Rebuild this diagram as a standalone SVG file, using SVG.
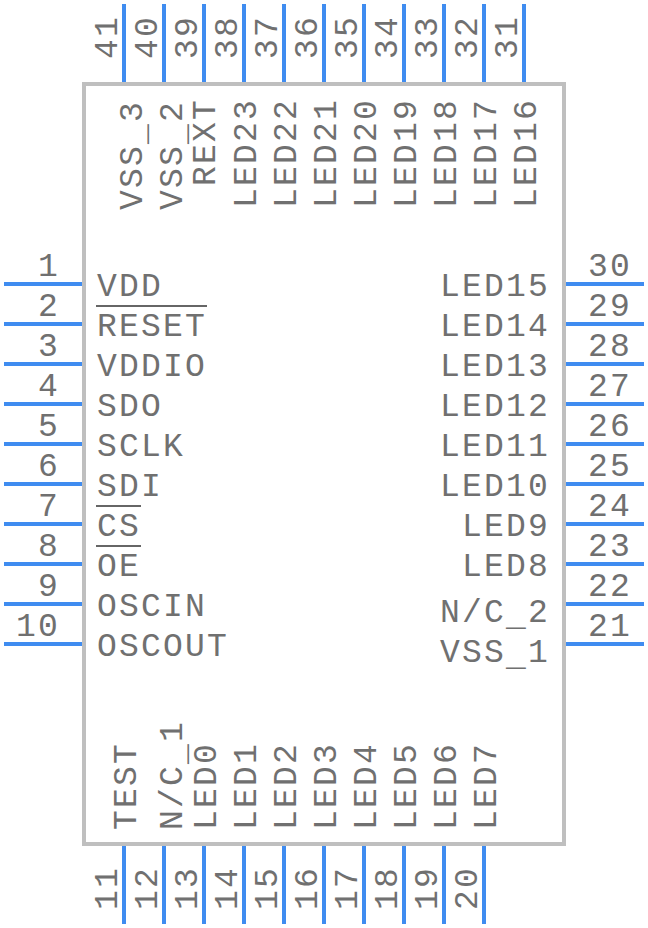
<svg xmlns="http://www.w3.org/2000/svg" width="648" height="928" viewBox="0 0 648 928">
<style>
text{font-family:"Liberation Mono","DejaVu Sans Mono",monospace;font-size:33px;letter-spacing:2.2px;fill:#707070}
.pin{stroke:#3f8cf0;stroke-width:4;fill:none}
.ov{stroke:#666;stroke-width:2;fill:none}
</style>
<g id="body"><rect x="84" y="84" width="480" height="760" fill="#fff" stroke="#bfbfbf" stroke-width="4"/></g>
<g id="connectors">
<path class="pin" d="M4 284H82M4 324H82M4 364H82M4 404H82M4 444H82M4 484H82M4 524H82M4 564H82M4 604H82M4 644H82M566 284H644M566 324H644M566 364H644M566 404H644M566 444H644M566 484H644M566 524H644M566 564H644M566 604H644M566 644H644M124 4V82M164 4V82M204 4V82M244 4V82M284 4V82M324 4V82M364 4V82M404 4V82M444 4V82M484 4V82M524 4V82M124 846V924M164 846V924M204 846V924M244 846V924M284 846V924M324 846V924M364 846V924M404 846V924M444 846V924M484 846V924"/>
</g>
<g id="pin-numbers">
<text x="38" y="276">1</text><text x="38" y="316">2</text><text x="38" y="356">3</text><text x="38" y="396">4</text><text x="38" y="436">5</text><text x="38" y="476">6</text><text x="38" y="516">7</text><text x="38" y="556">8</text><text x="38" y="596">9</text><text x="16" y="636">10</text>
<text x="588" y="276">30</text><text x="588" y="316">29</text><text x="588" y="356">28</text><text x="588" y="396">27</text><text x="588" y="436">26</text><text x="588" y="476">25</text><text x="588" y="516">24</text><text x="588" y="556">23</text><text x="588" y="596">22</text><text x="588" y="636">21</text>
<text transform="translate(117 59) rotate(-90)">41</text><text transform="translate(157 59) rotate(-90)">40</text><text transform="translate(197 59) rotate(-90)">39</text><text transform="translate(237 59) rotate(-90)">38</text><text transform="translate(277 59) rotate(-90)">37</text><text transform="translate(317 59) rotate(-90)">36</text><text transform="translate(357 59) rotate(-90)">35</text><text transform="translate(397 59) rotate(-90)">34</text><text transform="translate(437 59) rotate(-90)">33</text><text transform="translate(477 59) rotate(-90)">32</text><text transform="translate(517 59) rotate(-90)">31</text>
<text transform="translate(117 910) rotate(-90)">11</text><text transform="translate(157 910) rotate(-90)">12</text><text transform="translate(197 910) rotate(-90)">13</text><text transform="translate(237 910) rotate(-90)">14</text><text transform="translate(277 910) rotate(-90)">15</text><text transform="translate(317 910) rotate(-90)">16</text><text transform="translate(357 910) rotate(-90)">17</text><text transform="translate(397 910) rotate(-90)">18</text><text transform="translate(437 910) rotate(-90)">19</text><text transform="translate(477 910) rotate(-90)">20</text>
</g>
<g id="pin-names">
<text x="97" y="296">VDD</text><text x="97" y="336">RESET</text><text x="97" y="376">VDDIO</text><text x="97" y="416">SDO</text><text x="97" y="456">SCLK</text><text x="97" y="496">SDI</text><text x="97" y="536">CS</text><text x="97" y="576">OE</text><text x="97" y="616">OSCIN</text><text x="97" y="656">OSCOUT</text>
<text x="440" y="296">LED15</text><text x="440" y="336">LED14</text><text x="440" y="376">LED13</text><text x="440" y="416">LED12</text><text x="440" y="456">LED11</text><text x="440" y="496">LED10</text><text x="462" y="536">LED9</text><text x="462" y="576">LED8</text><text x="440" y="622">N/C<tspan dy="3">_</tspan><tspan dy="-3">2</tspan></text><text x="440" y="662">VSS<tspan dy="3">_</tspan><tspan dy="-3">1</tspan></text>
<text transform="translate(142 210) rotate(-90)">VSS<tspan dy="3">_</tspan><tspan dy="-3">3</tspan></text><text transform="translate(182 210) rotate(-90)">VSS<tspan dy="3">_</tspan><tspan dy="-3">2</tspan></text><text transform="translate(215 186) rotate(-90)">REXT</text><text transform="translate(256 208) rotate(-90)">LED23</text><text transform="translate(296 208) rotate(-90)">LED22</text><text transform="translate(336 208) rotate(-90)">LED21</text><text transform="translate(376 208) rotate(-90)">LED20</text><text transform="translate(416 208) rotate(-90)">LED19</text><text transform="translate(456 208) rotate(-90)">LED18</text><text transform="translate(496 208) rotate(-90)">LED17</text><text transform="translate(536 208) rotate(-90)">LED16</text>
<text transform="translate(136 830) rotate(-90)">TEST</text><text transform="translate(182 830) rotate(-90)">N/C<tspan dy="3">_</tspan><tspan dy="-3">1</tspan></text><text transform="translate(216 830) rotate(-90)">LED0</text><text transform="translate(256 830) rotate(-90)">LED1</text><text transform="translate(296 830) rotate(-90)">LED2</text><text transform="translate(336 830) rotate(-90)">LED3</text><text transform="translate(376 830) rotate(-90)">LED4</text><text transform="translate(416 830) rotate(-90)">LED5</text><text transform="translate(456 830) rotate(-90)">LED6</text><text transform="translate(496 830) rotate(-90)">LED7</text>
<path class="ov" d="M96 306H207M96 506H141M96 546H141"/>
</g>
</svg>
